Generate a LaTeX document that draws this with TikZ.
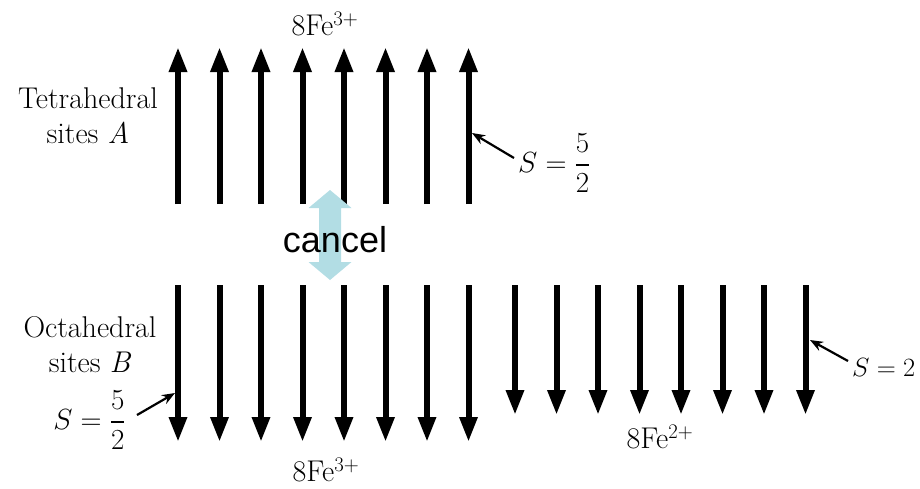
\documentclass[tikz,border=0pt]{standalone}
\usepackage{amsmath}
\usepackage{fontspec}
\newfontfamily\cancelfont{Liberation Sans}
\usetikzlibrary{arrows.meta}
\definecolor{cancelblue}{RGB}{178,221,228}
\begin{document}
\begin{tikzpicture}[x=1pt,y=-1pt,
  spin/.style={line width=6pt,-{Triangle[width=17pt,length=25pt]}},
  lbl/.style={font=\fontsize{30}{35}\selectfont,inner sep=0pt,align=center},
  spinval/.style={font=\fontsize{24}{29}\selectfont,inner sep=0pt,scale=1.17},
  ptr/.style={line width=2.2pt,-{Stealth[width=10pt,length=13pt]}}]
\useasboundingbox (0,0) rectangle (920,488);
% tetrahedral A spins (up)
\foreach \x [count=\i] in {178,219.5,261,302.5,344,385.5,427,468.5} {
  \coordinate (at\i) at (\x,204);
  \coordinate (ah\i) at (\x,47);
  \draw[spin] (at\i) -- (ah\i);
}
% octahedral B Fe3+ spins (down)
\foreach \x [count=\i] in {178,219.5,261,302.5,344,385.5,427,468.5} {
  \coordinate (bt\i) at (\x,285);
  \coordinate (bh\i) at (\x,442);
  \draw[spin] (bt\i) -- (bh\i);
}
% octahedral B Fe2+ spins (down)
\foreach \x [count=\i] in {515,556.5,598,639.5,681,722.5,764,805.5} {
  \coordinate (ct\i) at (\x,285);
  \coordinate (ch\i) at (\x,415);
  \draw[spin] (ct\i) -- (ch\i);
}
% cancel double arrow
\fill[cancelblue] (330,190) -- (351.5,208) -- (341,208) -- (341,262) -- (351.5,262)
  -- (330,280) -- (308.5,262) -- (319,262) -- (319,208) -- (308.5,208) -- cycle;
\node[inner sep=0pt,anchor=base,font=\cancelfont\fontsize{36}{40}\selectfont] (cancel) at (335,252) {cancel};
% labels
\node[lbl] (tet) at (88,115.5) {Tetrahedral\\sites \textit{A}};
\node[lbl] (oct) at (90,345) {Octahedral\\sites \textit{B}};
\node[lbl,anchor=base] (fe3top) at (325,35) {8Fe$^{3+}$};
\node[lbl,anchor=base] (fe3bot) at (326,481) {8Fe$^{3+}$};
\node[lbl,anchor=base] (fe2) at (660,448) {8Fe$^{2+}$};
% spin values
\node[spinval,anchor=west] (sA) at (518,163) {$S=\dfrac{5}{2}$};
\node[spinval,anchor=east] (sB) at (126,420) {$S=\dfrac{5}{2}$};
\node[font=\fontsize{24}{29}\selectfont,inner sep=0pt,scale=1.06,anchor=west] (s2) at (852,367) {$S=2$};
\coordinate (pA) at (472,133);
\coordinate (pB) at (175,393);
\coordinate (p2) at (810,340);
\draw[ptr] (sA.west) ++(-4,-5) -- (pA);
\draw[ptr] (sB.east) ++(11,-5) -- (pB);
\draw[ptr] (s2.west) ++(-4,-6) -- (p2);
\end{tikzpicture}
\end{document}
